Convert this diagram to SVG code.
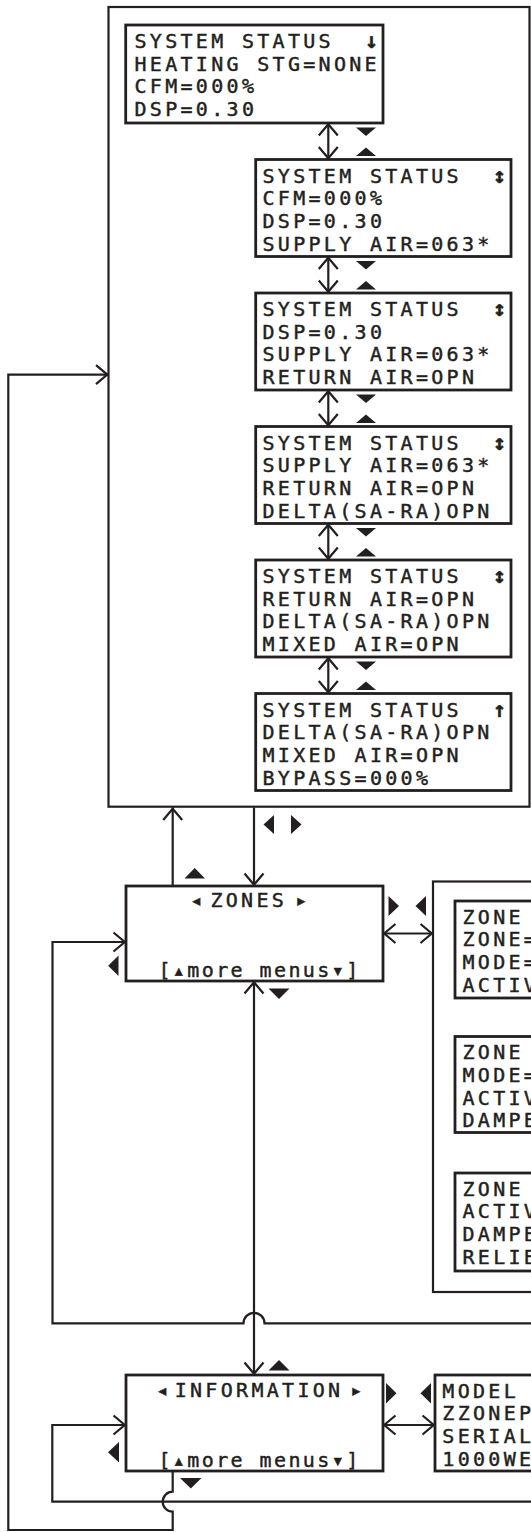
<svg xmlns="http://www.w3.org/2000/svg" width="531" height="1532" viewBox="0 0 531 1532">
<style>
.t{font-family:"DejaVu Sans Mono","Liberation Mono",monospace;font-size:20px;letter-spacing:3.3px;fill:#231f20;stroke:#231f20;stroke-width:0.45px;white-space:pre}
.m{letter-spacing:2.4px}
.a{font-weight:bold;font-size:22px}
.node{fill:#fff;stroke:#231f20;stroke-width:2.8}
.frame{fill:none;stroke:#231f20;stroke-width:2.2}
.c{fill:none;stroke:#231f20;stroke-width:2.2}
.k{fill:#231f20}
</style>
<defs>
<marker id="ah" viewBox="-14 -11 16 22" refX="0" refY="0" markerWidth="16" markerHeight="22" markerUnits="userSpaceOnUse" orient="auto-start-reverse">
<path d="M-12.5,-9.5 L-1.2,0 L-12.5,9.5" fill="none" stroke="#231f20" stroke-width="2.2"/>
</marker>
</defs>
<rect width="531" height="1532" fill="#fff"/>

<g id="status-frame"><rect class="frame" x="108.5" y="7" width="421" height="799.7"/></g>
<g id="zone-frame"><rect class="frame" x="433" y="881.5" width="200" height="410.5"/></g>

<g id="connectors">
<path class="c" d="M328.3,123 V159.5" marker-start="url(#ah)" marker-end="url(#ah)"/>
<path class="c" d="M328.3,256.5 V293" marker-start="url(#ah)" marker-end="url(#ah)"/>
<path class="c" d="M328.3,390 V426.5" marker-start="url(#ah)" marker-end="url(#ah)"/>
<path class="c" d="M328.3,523.5 V560" marker-start="url(#ah)" marker-end="url(#ah)"/>
<path class="c" d="M328.3,657 V693.5" marker-start="url(#ah)" marker-end="url(#ah)"/>
<path class="c" d="M172.7,886 V807.5" marker-end="url(#ah)"/>
<path class="c" d="M254,807.5 V886" marker-end="url(#ah)"/>
<path class="c" d="M254,981 V1375" marker-start="url(#ah)" marker-end="url(#ah)"/>
<path class="c" d="M383,933.5 H433" marker-start="url(#ah)" marker-end="url(#ah)"/>
<path class="c" d="M383,1425 H435" marker-start="url(#ah)" marker-end="url(#ah)"/>
<path class="c" d="M560,1323.3 H264.5 A10.5,10.5 0 0 0 243.5,1323.3 H52.5 V942 H126" marker-end="url(#ah)"/>
<path class="c" d="M560,1501.7 H52.3 V1425 H126" marker-end="url(#ah)"/>
<path class="c" d="M172.7,1471 V1491.7 A10,10 0 0 0 172.7,1511.7 V1530 H8.3 V374.6 H108.5" marker-end="url(#ah)"/>
</g>

<g id="keys">
<polygon class="k" points="356,127.5 376,127.5 366,136"/>
<polygon class="k" points="356,156 376,156 366,147.5"/>
<polygon class="k" points="356,261 376,261 366,269.5"/>
<polygon class="k" points="356,289.5 376,289.5 366,281"/>
<polygon class="k" points="356,394.5 376,394.5 366,403"/>
<polygon class="k" points="356,423 376,423 366,414.5"/>
<polygon class="k" points="356,528 376,528 366,536.5"/>
<polygon class="k" points="356,556.5 376,556.5 366,548"/>
<polygon class="k" points="356,661.5 376,661.5 366,670"/>
<polygon class="k" points="356,690 376,690 366,681.5"/>
<polygon class="k" points="274,815 274,834 263.5,824.5"/>
<polygon class="k" points="291,815 291,834 301.5,824.5"/>
<polygon class="k" points="184.5,878.5 205,878.5 194.7,868"/>
<polygon class="k" points="388.5,896 388.5,916 399,906"/>
<polygon class="k" points="426,896 426,916 415.5,906"/>
<polygon class="k" points="118.5,955.5 118.5,976 108.2,965.8"/>
<polygon class="k" points="268.5,988.5 289.5,988.5 279,999"/>
<polygon class="k" points="268.5,1370.5 289.5,1370.5 279,1360"/>
<polygon class="k" points="386,1383 386,1403.5 396.5,1393.2"/>
<polygon class="k" points="431,1383 431,1403.5 420.5,1393.2"/>
<polygon class="k" points="119,1442 119,1462.5 108,1452.2"/>
<polygon class="k" points="180,1478 201.5,1478 190.8,1488.5"/>
</g>

<g id="status-1">
<rect class="node" x="125.7" y="25" width="257.3" height="98"/>
<text class="t" xml:space="preserve" x="134.5" y="48">SYSTEM STATUS  <tspan class="a">↓</tspan></text>
<text class="t" x="134.5" y="70.7">HEATING STG=NONE</text>
<text class="t" x="134.5" y="93.4">CFM=000%</text>
<text class="t" x="134.5" y="116.1">DSP=0.30</text>
</g>
<g id="status-2">
<rect class="node" x="255.7" y="159.5" width="255.3" height="97"/>
<text class="t" xml:space="preserve" x="262.5" y="182.5">SYSTEM STATUS  <tspan class="a">↕</tspan></text>
<text class="t" x="262.5" y="205.2">CFM=000%</text>
<text class="t" x="262.5" y="227.9">DSP=0.30</text>
<text class="t" x="262.5" y="250.6">SUPPLY AIR=063*</text>
</g>
<g id="status-3">
<rect class="node" x="255.7" y="293" width="255.3" height="97"/>
<text class="t" xml:space="preserve" x="262.5" y="316">SYSTEM STATUS  <tspan class="a">↕</tspan></text>
<text class="t" x="262.5" y="338.7">DSP=0.30</text>
<text class="t" x="262.5" y="361.4">SUPPLY AIR=063*</text>
<text class="t" x="262.5" y="384.1">RETURN AIR=OPN</text>
</g>
<g id="status-4">
<rect class="node" x="255.7" y="426.5" width="255.3" height="97"/>
<text class="t" xml:space="preserve" x="262.5" y="449.5">SYSTEM STATUS  <tspan class="a">↕</tspan></text>
<text class="t" x="262.5" y="472.2">SUPPLY AIR=063*</text>
<text class="t" x="262.5" y="494.9">RETURN AIR=OPN</text>
<text class="t" x="262.5" y="517.6">DELTA(SA-RA)OPN</text>
</g>
<g id="status-5">
<rect class="node" x="255.7" y="560" width="255.3" height="97"/>
<text class="t" xml:space="preserve" x="262.5" y="583">SYSTEM STATUS  <tspan class="a">↕</tspan></text>
<text class="t" x="262.5" y="605.7">RETURN AIR=OPN</text>
<text class="t" x="262.5" y="628.4">DELTA(SA-RA)OPN</text>
<text class="t" x="262.5" y="651.1">MIXED AIR=OPN</text>
</g>
<g id="status-6">
<rect class="node" x="255.7" y="693.5" width="255.3" height="97"/>
<text class="t" xml:space="preserve" x="262.5" y="716.5">SYSTEM STATUS  <tspan class="a">↑</tspan></text>
<text class="t" x="262.5" y="739.2">DELTA(SA-RA)OPN</text>
<text class="t" x="262.5" y="761.9">MIXED AIR=OPN</text>
<text class="t" x="262.5" y="784.6">BYPASS=000%</text>
</g>

<g id="zones">
<rect class="node" x="126" y="886" width="257" height="95"/>
<text class="t" x="198" y="907.3" text-anchor="middle">◂</text>
<text class="t" x="210.4" y="907.3">ZONES</text>
<text class="t" x="303" y="907.3" text-anchor="middle">▸</text>
<text class="t m" xml:space="preserve" x="259.5" y="976.7" text-anchor="middle">[▴more menus▾]</text>
</g>

<g id="zone-1">
<rect class="node" x="455" y="901" width="200" height="97"/>
<text class="t" x="462.5" y="923.7">ZONE</text>
<text class="t" x="462.5" y="946.4">ZONE=</text>
<text class="t" x="462.5" y="969.1">MODE=</text>
<text class="t" x="462.5" y="991.8">ACTIV</text>
</g>
<g id="zone-2">
<rect class="node" x="455" y="1036.5" width="200" height="96"/>
<text class="t" x="462.5" y="1059.2">ZONE</text>
<text class="t" x="462.5" y="1081.9">MODE=</text>
<text class="t" x="462.5" y="1104.6">ACTIV</text>
<text class="t" x="462.5" y="1127.3">DAMPE</text>
</g>
<g id="zone-3">
<rect class="node" x="455" y="1173" width="200" height="98"/>
<text class="t" x="462.5" y="1195.7">ZONE</text>
<text class="t" x="462.5" y="1218.4">ACTIV</text>
<text class="t" x="462.5" y="1241.1">DAMPE</text>
<text class="t" x="462.5" y="1263.8">RELIE</text>
</g>

<g id="information">
<rect class="node" x="126" y="1375" width="257" height="96"/>
<text class="t" x="164" y="1396.8" text-anchor="middle">◂</text>
<text class="t" x="174.7" y="1396.8">INFORMATION</text>
<text class="t" x="358" y="1396.8" text-anchor="middle">▸</text>
<text class="t m" xml:space="preserve" x="259.5" y="1466.5" text-anchor="middle">[▴more menus▾]</text>
</g>

<g id="info-detail">
<rect class="node" x="435" y="1375" width="200" height="96"/>
<text class="t" x="442.3" y="1397.7">MODEL</text>
<text class="t" x="442.3" y="1420.4">ZZONEP</text>
<text class="t" x="442.3" y="1443.1">SERIAL</text>
<text class="t" x="442.3" y="1465.8">1000WE</text>
</g>
</svg>
